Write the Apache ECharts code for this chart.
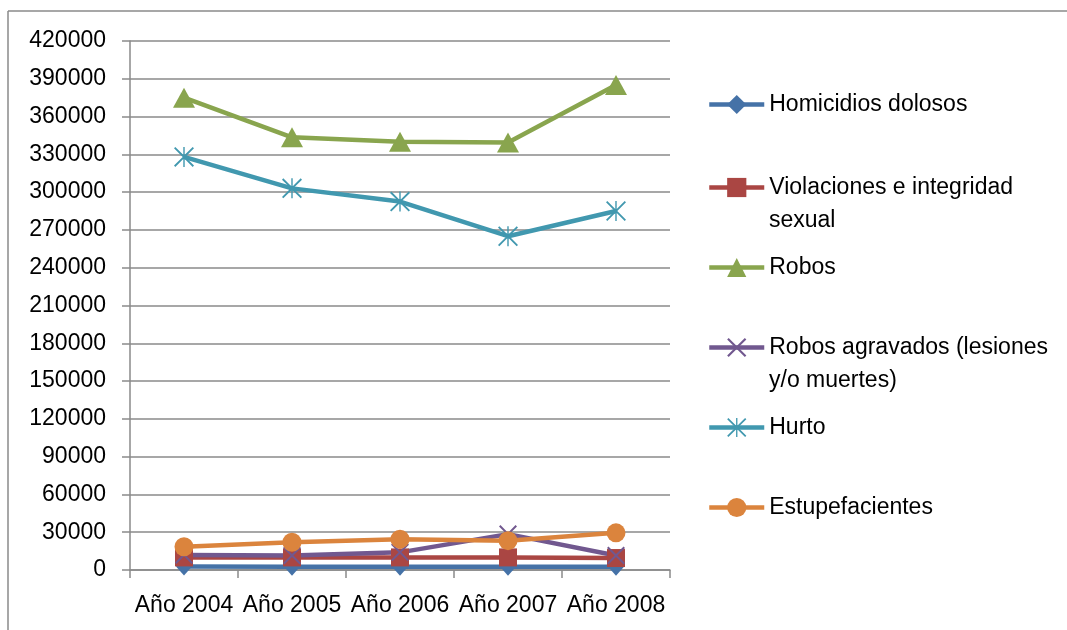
<!DOCTYPE html>
<html>
<head>
<meta charset="utf-8">
<script src="https://cdn.jsdelivr.net/npm/echarts@6/dist/echarts.min.js"></script>
<style>
  html, body { margin: 0; padding: 0; background: #fff; }
  #chart { width: 1067px; height: 630px; }
</style>
</head>
<body>
<div id="chart"></div>
<script>
// datos
var years = ['Año 2004', 'Año 2005', 'Año 2006', 'Año 2007', 'Año 2008'];
var homicidios = [2700, 2600, 2500, 2500, 2600];
var violaciones = [10000, 10000, 10000, 10000, 9500];
var robos = [375000, 343500, 340000, 339500, 385000];
var robosAgravados = [12000, 11500, 14000, 28500, 11500];
var hurto = [328000, 303000, 292500, 265000, 285000];
var estupefacientes = [18500, 22000, 24500, 23300, 29500];

var fontName = '"Liberation Sans", Arial, sans-serif';
var gris = '#8a8a8a';

var symX = 'path://M0,1.6 L1.6,0 L10,8.4 L18.4,0 L20,1.6 L11.6,10 L20,18.4 L18.4,20 L10,11.6 L1.6,20 L0,18.4 L8.4,10 Z';
var symAst = 'path://M9.3,0 L10.7,0 L10.7,20 L9.3,20 Z M0,1.3 L1.3,0 L10,8.7 L18.7,0 L20,1.3 L11.3,10 L20,18.7 L18.7,20 L10,11.3 L1.3,20 L0,18.7 L8.7,10 Z';

var names = ['Homicidios dolosos', 'Violaciones e integridad sexual', 'Robos',
             'Robos agravados (lesiones y/o muertes)', 'Hurto', 'Estupefacientes'];
// primera línea de cada leyenda (la segunda va como texto aparte)
var legendTop = [93, 176, 256, 336, 416, 496];

function serie(name, data, color, symbol, size) {
  return {
    name: name,
    type: 'line',
    data: data,
    symbol: symbol,
    symbolSize: size,
    showAllSymbol: true,
    lineStyle: { color: color, width: 4.5 },
    itemStyle: { color: color },
    emphasis: { disabled: true }
  };
}

var legends = names.map(function (n, i) {
  return {
    data: [n],
    orient: 'vertical',
    left: 707,
    top: legendTop[i],
    itemWidth: 55,
    itemHeight: 24,
    itemGap: 0,
    padding: 0,
    selectedMode: false,
    lineStyle: { width: 4.5 },
    formatter: function (name) {
      if (name === names[1]) return 'Violaciones e integridad';
      if (name === names[3]) return 'Robos agravados (lesiones';
      return name;
    },
    textStyle: { fontFamily: fontName, fontSize: 23, color: '#000' }
  };
});

var chart = echarts.init(document.getElementById('chart'));
chart.setOption({
  animation: false,
  backgroundColor: '#fff',
  legend: legends,
  grid: { left: 130, right: 397, top: 41, bottom: 60, containLabel: false },
  xAxis: {
    type: 'category',
    data: years,
    boundaryGap: true,
    axisLine: { lineStyle: { color: gris, width: 1.5 } },
    axisTick: { show: true, length: 8, lineStyle: { color: gris, width: 1.5 } },
    axisLabel: { interval: 0, margin: 24, fontFamily: fontName, fontSize: 23, color: '#000' }
  },
  yAxis: {
    type: 'value',
    min: 0,
    max: 420000,
    interval: 30000,
    axisLine: { show: true, lineStyle: { color: gris, width: 1.5 } },
    axisTick: { show: true, length: 8, lineStyle: { color: gris, width: 1.5 } },
    axisLabel: {
      margin: 24, fontFamily: fontName, fontSize: 23, color: '#000',
      formatter: function (v) { return String(v); }
    },
    splitLine: { show: true, lineStyle: { color: gris, width: 1.5 } }
  },
  series: [
    serie(names[0], homicidios, '#4572A7', 'diamond', [16, 18]),
    serie(names[1], violaciones, '#AA4643', 'rect', 18),
    serie(names[2], robos, '#89A54E', 'triangle', [22, 20]),
    serie(names[3], robosAgravados, '#71588F', symX, 18),
    serie(names[4], hurto, '#4198AF', symAst, 20),
    serie(names[5], estupefacientes, '#DB843D', 'circle', 19)
  ],
  graphic: [
    { type: 'line', shape: { x1: 8, y1: 11, x2: 8, y2: 630 }, style: { stroke: gris, lineWidth: 1.5 } },
    { type: 'line', shape: { x1: 8, y1: 11, x2: 1067, y2: 11 }, style: { stroke: gris, lineWidth: 1.5 } },
    { type: 'text', left: 769, top: 209, style: { text: 'sexual', font: '23px ' + fontName, fill: '#000' } },
    { type: 'text', left: 769, top: 369, style: { text: 'y/o muertes)', font: '23px ' + fontName, fill: '#000' } }
  ]
});
</script>
</body>
</html>
